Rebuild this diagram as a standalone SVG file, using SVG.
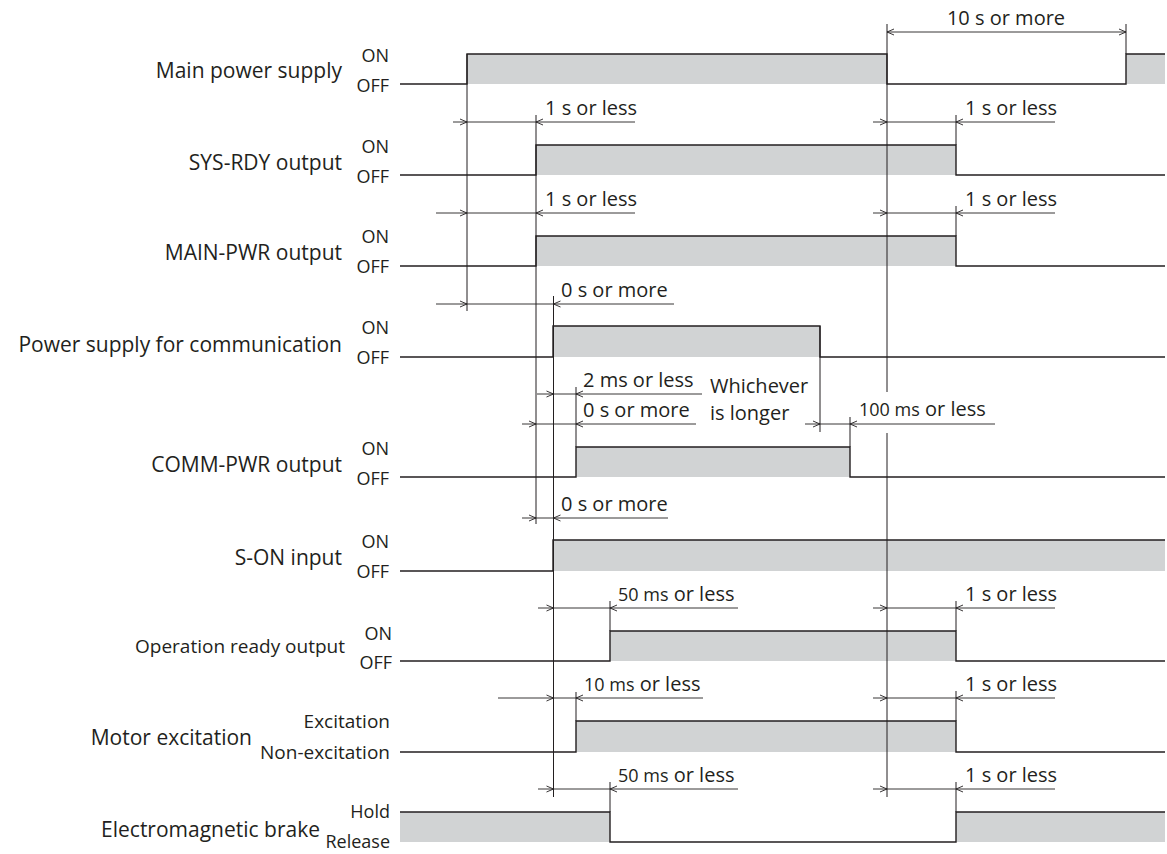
<svg xmlns="http://www.w3.org/2000/svg" xmlns:xlink="http://www.w3.org/1999/xlink" width="1167" height="854" viewBox="0 0 1167 854">
<style>
.sig{fill:none;stroke:#231f20;stroke-width:1.4;stroke-linejoin:miter}
.on{fill:#d1d3d4;stroke:none}
.ext{fill:none;stroke:#231f20;stroke-width:1}
.dim{fill:none;stroke:#231f20;stroke-width:0.9}
.arr{fill:none;stroke:#231f20;stroke-width:0.9}
text{font-family:"Open Sans","Liberation Sans",sans-serif;fill:#231f20}
.nm{font-size:21px;text-anchor:end}
.lv{font-size:18px;text-anchor:end}
.lv19{font-size:19px;text-anchor:end}
.dt{font-size:20px}
.sm{font-size:18px}
</style>
<defs>
<path id="aR" class="arr" d="M-7,-3 L0,0 L-7,3"/>
<path id="aL" class="arr" d="M7,-3 L0,0 L7,3"/>
</defs>

<g id="main-power">
<rect class="on" x="467" y="54" width="420" height="30"/>
<rect class="on" x="1126" y="54" width="39" height="30"/>
<path class="sig" d="M400,84 H467 V54 H887 V84 H1126 V54 H1165"/>
<text class="nm" x="342" y="78">Main power supply</text>
<text class="lv" x="389" y="62">ON</text>
<text class="lv" x="389" y="92">OFF</text>
</g>

<g id="sys-rdy">
<rect class="on" x="536" y="145" width="420" height="30"/>
<path class="sig" d="M400,175 H536 V145 H956 V175 H1165"/>
<text class="nm" x="342" y="170">SYS-RDY output</text>
<text class="lv" x="389" y="153">ON</text>
<text class="lv" x="389" y="183">OFF</text>
</g>

<g id="main-pwr">
<rect class="on" x="536" y="236" width="420" height="30"/>
<path class="sig" d="M400,266 H536 V236 H956 V266 H1165"/>
<text class="nm" x="342" y="260">MAIN-PWR output</text>
<text class="lv" x="389" y="243">ON</text>
<text class="lv" x="389" y="273">OFF</text>
</g>

<g id="comm-supply">
<rect class="on" x="553" y="326" width="267" height="31"/>
<path class="sig" d="M400,357 H553 V326 H820 V357 H1165"/>
<text class="nm" x="342" y="352">Power supply for communication</text>
<text class="lv" x="389" y="334">ON</text>
<text class="lv" x="389" y="364">OFF</text>
</g>

<g id="comm-pwr">
<rect class="on" x="576" y="447" width="274" height="30"/>
<path class="sig" d="M400,477 H576 V447 H850 V477 H1165"/>
<text class="nm" x="342" y="472">COMM-PWR output</text>
<text class="lv" x="389" y="455">ON</text>
<text class="lv" x="389" y="485">OFF</text>
</g>

<g id="s-on">
<rect class="on" x="553" y="540" width="612" height="31"/>
<path class="sig" d="M400,571 H553 V540 H1165"/>
<text class="nm" x="342" y="565">S-ON input</text>
<text class="lv" x="389" y="548">ON</text>
<text class="lv" x="389" y="578">OFF</text>
</g>

<g id="op-ready">
<rect class="on" x="610" y="631" width="346" height="30"/>
<path class="sig" d="M400,661 H610 V631 H956 V661 H1165"/>
<text class="nm" x="345" y="653" style="font-size:19px">Operation ready output</text>
<text class="lv" x="392" y="640">ON</text>
<text class="lv" x="392" y="669">OFF</text>
</g>

<g id="motor">
<rect class="on" x="576" y="721" width="380" height="31"/>
<path class="sig" d="M400,752 H576 V721 H956 V752 H1165"/>
<text class="nm" x="252" y="745">Motor excitation</text>
<text class="lv19" x="390" y="728">Excitation</text>
<text class="lv19" x="390" y="759">Non-excitation</text>
</g>

<g id="brake">
<rect class="on" x="400" y="812" width="210" height="30"/>
<rect class="on" x="956" y="812" width="209" height="30"/>
<path class="sig" d="M400,812 H610 V842 H956 V812 H1165"/>
<text class="nm" x="320" y="837">Electromagnetic brake</text>
<text class="lv" x="390" y="818">Hold</text>
<text class="lv" x="390" y="848">Release</text>
</g>

<g id="connectors">
<!-- extension lines -->
<path class="ext" d="M467,54 V311 M536,115 V524 M553.5,296 V797 M576,387 V447 M576,692 V721 M610,601 V631 M610,782 V812 M820,326 V432 M850,417 V447 M887,24 V392 M887,433 V797 M956,115 V145 M956,206 V236 M956,601 V631 M956,691 V721 M956,782 V812 M1126,24 V54"/>
<!-- dimension lines -->
<path class="dim" d="M887,32 H1126 M453,122 H635 M873,122 H1055 M436,213 H635 M873,213 H1055 M436,304 H674 M537,394 H702 M522,424 H696 M805,424 H995 M522,518 H668 M538,608 H738 M873,608 H1055 M498,698 H703 M873,698 H1055 M538,789 H738 M873,789 H1055"/>
<use xlink:href="#aL" x="887" y="32"/><use xlink:href="#aR" x="1126" y="32"/>
<use xlink:href="#aR" x="467" y="122"/><use xlink:href="#aL" x="536" y="122"/>
<use xlink:href="#aR" x="887" y="122"/><use xlink:href="#aL" x="956" y="122"/>
<use xlink:href="#aR" x="467" y="213"/><use xlink:href="#aL" x="536" y="213"/>
<use xlink:href="#aR" x="887" y="213"/><use xlink:href="#aL" x="956" y="213"/>
<use xlink:href="#aR" x="467" y="304"/><use xlink:href="#aL" x="553.5" y="304"/>
<use xlink:href="#aR" x="553.5" y="394"/><use xlink:href="#aL" x="576" y="394"/>
<use xlink:href="#aR" x="536" y="424"/><use xlink:href="#aL" x="576" y="424"/>
<use xlink:href="#aR" x="820" y="424"/><use xlink:href="#aL" x="850" y="424"/>
<use xlink:href="#aR" x="536" y="518"/><use xlink:href="#aL" x="553.5" y="518"/>
<use xlink:href="#aR" x="553.5" y="608"/><use xlink:href="#aL" x="610" y="608"/>
<use xlink:href="#aR" x="887" y="608"/><use xlink:href="#aL" x="956" y="608"/>
<use xlink:href="#aR" x="553.5" y="698"/><use xlink:href="#aL" x="576" y="698"/>
<use xlink:href="#aR" x="887" y="698"/><use xlink:href="#aL" x="956" y="698"/>
<use xlink:href="#aR" x="553.5" y="789"/><use xlink:href="#aL" x="610" y="789"/>
<use xlink:href="#aR" x="887" y="789"/><use xlink:href="#aL" x="956" y="789"/>
<!-- dimension texts -->
<text class="dt" x="1006" y="25" text-anchor="middle">10 s or more</text>
<text class="dt" x="545" y="115">1 s or less</text>
<text class="dt" x="965" y="115">1 s or less</text>
<text class="dt" x="545" y="206">1 s or less</text>
<text class="dt" x="965" y="206">1 s or less</text>
<text class="dt" x="561" y="297">0 s or more</text>
<text class="dt" x="583" y="387">2 ms or less</text>
<text class="dt" x="583" y="417">0 s or more</text>
<text class="dt" x="710" y="393">Whichever</text>
<text class="dt" x="710" y="420">is longer</text>
<text class="dt" x="859" y="416"><tspan class="sm">100 ms</tspan> or less</text>
<text class="dt" x="561" y="511">0 s or more</text>
<text class="dt" x="618" y="601"><tspan class="sm">50 ms</tspan> or less</text>
<text class="dt" x="965" y="601">1 s or less</text>
<text class="dt" x="584" y="691"><tspan class="sm">10 ms</tspan> or less</text>
<text class="dt" x="965" y="691">1 s or less</text>
<text class="dt" x="618" y="782"><tspan class="sm">50 ms</tspan> or less</text>
<text class="dt" x="965" y="782">1 s or less</text>
</g>
</svg>
